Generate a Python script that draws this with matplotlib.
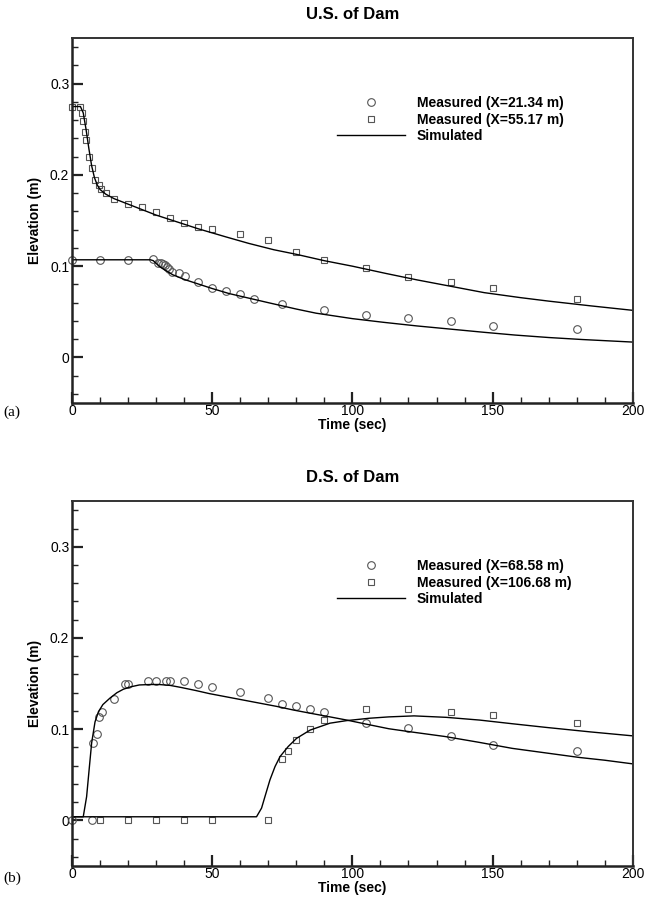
import matplotlib
matplotlib.use("Agg")
import matplotlib.pyplot as plt
from matplotlib.ticker import MultipleLocator

FONT = "Liberation Sans"

# ---- (a) U.S. of Dam ----
us_21_t = [0, 10, 20, 29, 30.7, 31.6, 32.3, 33, 33.8, 34.7, 35.6, 38.3, 40.2, 45, 50, 55, 60, 65,
           75, 90, 105, 120, 135, 150, 180]
us_21_h = [0.107, 0.107, 0.107, 0.1076, 0.104, 0.103, 0.1024, 0.101, 0.0995, 0.0966, 0.0936, 0.092,
           0.0892, 0.0827, 0.076, 0.0731, 0.070, 0.064, 0.0585, 0.052, 0.046, 0.0428, 0.040, 0.034, 0.0307]

us_55_t = [0, 3, 3.6, 4, 4.6, 5.1, 6.1, 7.1, 8.2, 9.5, 10.5, 12, 15, 20, 25, 30, 35, 40, 45, 50,
           60, 70, 80, 90, 105, 120, 135, 150, 180]
us_55_h = [0.275, 0.275, 0.268, 0.259, 0.247, 0.238, 0.220, 0.208, 0.195, 0.189, 0.185, 0.180, 0.174,
           0.168, 0.165, 0.159, 0.153, 0.147, 0.143, 0.141, 0.135, 0.129, 0.116, 0.107, 0.098, 0.0885,
           0.0827, 0.0764, 0.0643]

sim_us_55_t = [0, 3, 4, 5, 6, 7, 8, 9, 10, 12, 15, 20, 25, 30, 37, 45, 55, 63, 72, 80, 90, 100,
               112, 123, 135, 147, 160, 170, 185, 200]
sim_us_55_h = [0.275, 0.275, 0.268, 0.250, 0.229, 0.210, 0.197, 0.189, 0.184, 0.179, 0.174, 0.168,
               0.162, 0.156, 0.149, 0.141, 0.132, 0.125, 0.118, 0.113, 0.106, 0.100, 0.092, 0.085,
               0.078, 0.071, 0.0655, 0.0617, 0.0565, 0.0516]

sim_us_21_t = [0, 28, 29, 30, 31.5, 33, 36, 40, 44, 50, 56, 63, 70, 80, 87, 100, 111, 123, 135,
               147, 158, 170, 182, 200]
sim_us_21_h = [0.107, 0.107, 0.106, 0.103, 0.099, 0.096, 0.0905, 0.0855, 0.0815, 0.0755, 0.070,
               0.065, 0.060, 0.053, 0.0485, 0.0425, 0.0385, 0.0345, 0.031, 0.0275, 0.0245, 0.0218,
               0.0196, 0.0168]

# ---- (b) D.S. of Dam ----
ds_68_t = [0, 7, 7.5, 8.8, 9.7, 10.7, 15, 19, 20, 27, 30, 33.5, 35, 40, 45, 50, 60, 70, 75, 80,
           85, 90, 105, 120, 135, 150, 180]
ds_68_h = [0, 0, 0.085, 0.0945, 0.113, 0.1186, 0.133, 0.1496, 0.1496, 0.1525, 0.1525, 0.1525,
           0.1525, 0.1525, 0.1496, 0.1467, 0.1405, 0.1343, 0.128, 0.125, 0.122, 0.119, 0.107,
           0.101, 0.092, 0.083, 0.0766]

ds_106_t = [10, 20, 30, 40, 50, 70, 75, 77, 80, 85, 90, 105, 120, 135, 150, 180]
ds_106_h = [0, 0, 0, 0, 0, 0, 0.0675, 0.0762, 0.0886, 0.1007, 0.110, 0.1222, 0.1222, 0.119,
            0.116, 0.107]

sim_ds_68_t = [0, 4, 5.2, 6.2, 7, 8.2, 9.4, 11, 13.5, 16, 18.3, 21, 24, 28, 31, 35, 38.5, 44, 49,
               55, 61, 67, 73, 79, 85, 92, 98, 105, 113, 121, 133, 145, 157, 169, 181, 190, 200]
sim_ds_68_h = [0.004, 0.004, 0.026, 0.059, 0.085, 0.108, 0.119, 0.127, 0.134, 0.140, 0.1438,
               0.1465, 0.1485, 0.149, 0.149, 0.148, 0.146, 0.1425, 0.139, 0.1355, 0.132, 0.1285,
               0.125, 0.121, 0.1175, 0.1135, 0.110, 0.1055, 0.1005, 0.097, 0.092, 0.0857, 0.079,
               0.074, 0.069, 0.066, 0.062]

sim_ds_106_t = [0, 65.8, 67.6, 68.8, 70.6, 72.4, 74.2, 77.1, 80.1, 84.9, 92, 97.9, 106, 113, 122,
                133.5, 145.4, 157, 169, 185, 200]
sim_ds_106_h = [0.004, 0.004, 0.0135, 0.026, 0.0445, 0.059, 0.070, 0.081, 0.090, 0.099, 0.1066,
                0.1094, 0.112, 0.1135, 0.1146, 0.113, 0.110, 0.106, 0.102, 0.097, 0.0927]

x_ticks = [0, 50, 100, 150, 200]
x_tick_labels = ["0", "50", "100", "150", "200"]
y_ticks = [0, 0.1, 0.2, 0.3]
y_tick_labels = ["0", "0.1", "0.2", "0.3"]


def draw_panel(ax, title, meas_a, meas_b, sims, labels):
    mk = dict(linestyle="none", markerfacecolor="none", markeredgecolor="#555555",
              markeredgewidth=0.8, clip_on=False)
    h1, = ax.plot(meas_a[0], meas_a[1], marker="o", markersize=5.5, **mk)
    h2, = ax.plot(meas_b[0], meas_b[1], marker="s", markersize=4.5, **mk)
    h3 = None
    for t, h in sims:
        h3, = ax.plot(t, h, color="black", linewidth=1.0)

    ax.set_xlim(0, 200)
    ax.set_ylim(-0.05, 0.35)
    ax.set_xticks(x_ticks)
    ax.set_xticklabels(x_tick_labels, fontfamily=FONT, fontsize=10)
    ax.set_yticks(y_ticks)
    ax.set_yticklabels(y_tick_labels, fontfamily=FONT, fontsize=10)
    ax.xaxis.set_minor_locator(MultipleLocator(10))
    ax.yaxis.set_minor_locator(MultipleLocator(0.02))
    ax.tick_params(which="major", direction="in", length=8, width=1.6, pad=2, colors="#222222")
    ax.tick_params(axis="x", which="major", pad=1)
    ax.tick_params(which="minor", direction="in", length=4.5, width=1.0, colors="#222222")
    ax.tick_params(axis="both", labelcolor="black")
    for side in ["left", "bottom"]:
        ax.spines[side].set_linewidth(1.8)
        ax.spines[side].set_color("#222222")
    for side in ["top", "right"]:
        ax.spines[side].set_linewidth(1.4)
        ax.spines[side].set_color("#333333")

    ax.set_title(title, fontfamily=FONT, fontweight="bold", fontsize=12, pad=14)
    ax.set_xlabel("Time (sec)", fontfamily=FONT, fontweight="bold", fontsize=10, labelpad=0)
    ax.set_ylabel("Elevation (m)", fontfamily=FONT, fontweight="bold", fontsize=10, labelpad=6)

    ax.legend([h1, h2, h3], labels, loc="upper left", bbox_to_anchor=(0.472, 0.842),
              frameon=False, borderpad=0, borderaxespad=0, handlelength=4.9,
              handletextpad=0.85, labelspacing=0.2, numpoints=1,
              prop={"family": FONT, "weight": "bold", "size": 10})


fig = plt.figure(figsize=(6.46, 9.01), dpi=100)
ax1 = fig.add_axes([0.1115, 0.5527, 0.868, 0.405])
ax2 = fig.add_axes([0.1115, 0.0388, 0.868, 0.405])

draw_panel(ax1, "U.S. of Dam", (us_21_t, us_21_h), (us_55_t, us_55_h),
           [(sim_us_55_t, sim_us_55_h), (sim_us_21_t, sim_us_21_h)],
           ["Measured (X=21.34 m)", "Measured (X=55.17 m)", "Simulated"])
draw_panel(ax2, "D.S. of Dam", (ds_68_t, ds_68_h), (ds_106_t, ds_106_h),
           [(sim_ds_68_t, sim_ds_68_h), (sim_ds_106_t, sim_ds_106_h)],
           ["Measured (X=68.58 m)", "Measured (X=106.68 m)", "Simulated"])

fig.text(0.005, 1 - 412 / 901, "(a)", fontfamily="Liberation Serif", fontsize=11, va="center")
fig.text(0.005, 1 - 878 / 901, "(b)", fontfamily="Liberation Serif", fontsize=11, va="center")

fig.savefig("out.png", dpi=100)
